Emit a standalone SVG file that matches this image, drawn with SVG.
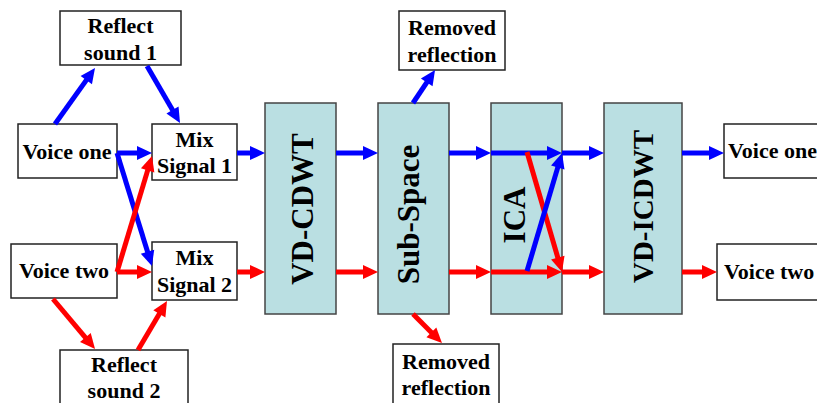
<svg xmlns="http://www.w3.org/2000/svg" width="817" height="403" viewBox="0 0 817 403">
<style>
.w{fill:#fff;stroke:#222;stroke-width:1.5}
.c{fill:#BADFE2;stroke:#444;stroke-width:1.5}
text{font-family:"Liberation Serif","Times New Roman",serif;font-weight:bold;fill:#000}
.t{font-size:22px;text-anchor:middle}
.v{text-anchor:middle}
.b{stroke:#0000FF;stroke-width:5;fill:none}
.r{stroke:#FF0000;stroke-width:5;fill:none}
</style>
<defs>
<marker id="hb" markerUnits="userSpaceOnUse" markerWidth="15" markerHeight="14" refX="5" refY="7" orient="auto" overflow="visible"><path d="M0,0 L15,7 L0,14 z" fill="#0000FF"/></marker>
<marker id="hr" markerUnits="userSpaceOnUse" markerWidth="15" markerHeight="14" refX="5" refY="7" orient="auto" overflow="visible"><path d="M0,0 L15,7 L0,14 z" fill="#FF0000"/></marker>
</defs>
<rect width="817" height="403" fill="#fff"/>
<g id="reflect1"><rect class="w" x="60" y="11" width="121" height="54"/><text class="t" x="120.5" y="33">Reflect</text><text class="t" x="120.5" y="60">sound 1</text></g>
<g id="voice1"><rect class="w" x="18" y="124" width="99" height="54"/><text class="t" x="67" y="159">Voice one</text></g>
<g id="mix1"><rect class="w" x="152" y="124" width="85" height="56"/><text class="t" x="194.5" y="146.5">Mix</text><text class="t" x="194.5" y="173">Signal 1</text></g>
<g id="voice2"><rect class="w" x="11" y="244" width="106" height="54"/><text class="t" x="64" y="278">Voice two</text></g>
<g id="mix2"><rect class="w" x="152" y="242" width="85" height="58"/><text class="t" x="194.5" y="265">Mix</text><text class="t" x="194.5" y="291.5">Signal 2</text></g>
<g id="reflect2"><rect class="w" x="60" y="350" width="128" height="60"/><text class="t" x="124" y="371.5">Reflect</text><text class="t" x="124" y="398">sound 2</text></g>
<g id="vdcdwt"><rect class="c" x="265" y="103" width="71" height="211"/><text class="v" font-size="31" transform="translate(313,209) rotate(-90)">VD-CDWT</text></g>
<g id="subspace"><rect class="c" x="378" y="103" width="71" height="211"/><text class="v" font-size="31" transform="translate(419,214.5) rotate(-90)">Sub-Space</text></g>
<g id="ica"><rect class="c" x="491" y="103" width="71" height="211"/><text class="v" font-size="31" transform="translate(525,215) rotate(-90)">ICA</text></g>
<g id="vdicdwt"><rect class="c" x="604" y="103" width="78" height="211"/><text class="v" font-size="29" transform="translate(653,206.5) rotate(-90)">VD-ICDWT</text></g>
<g id="removed1"><rect class="w" x="399" y="11" width="106" height="59"/><text class="t" x="452" y="35">Removed</text><text class="t" x="452" y="61.5">reflection</text></g>
<g id="removed2"><rect class="w" x="393" y="344" width="106" height="66"/><text class="t" x="446" y="369">Removed</text><text class="t" x="446" y="395">reflection</text></g>
<g id="out1"><rect class="w" x="724" y="124" width="100" height="54"/><text font-size="22" x="728" y="158">Voice one</text></g>
<g id="out2"><rect class="w" x="717" y="244" width="110" height="56"/><text font-size="22" x="724" y="279">Voice two</text></g>
<g id="connectors">
<line class="b" x1="55" y1="124" x2="89.2" y2="76.1" marker-end="url(#hb)"/>
<line class="b" x1="147" y1="66" x2="175" y2="114.3" marker-end="url(#hb)"/>
<line class="b" x1="117" y1="153" x2="142" y2="153" marker-end="url(#hb)"/>
<line class="b" x1="117" y1="153" x2="149" y2="256.5" marker-end="url(#hb)"/>
<line class="r" x1="117" y1="272" x2="149.1" y2="165.6" marker-end="url(#hr)"/>
<line class="r" x1="117" y1="272" x2="142" y2="272" marker-end="url(#hr)"/>
<line class="r" x1="53" y1="299" x2="88.6" y2="341.3" marker-end="url(#hr)"/>
<line class="r" x1="138" y1="350" x2="161.9" y2="309.6" marker-end="url(#hr)"/>
<line class="b" x1="237" y1="153" x2="255" y2="153" marker-end="url(#hb)"/>
<line class="r" x1="237" y1="272" x2="255" y2="272" marker-end="url(#hr)"/>
<line class="b" x1="336" y1="153" x2="368" y2="153" marker-end="url(#hb)"/>
<line class="r" x1="336" y1="272" x2="368" y2="272" marker-end="url(#hr)"/>
<line class="b" x1="413" y1="103" x2="429.5" y2="78.3" marker-end="url(#hb)"/>
<line class="r" x1="413" y1="314" x2="434.9" y2="335.9" marker-end="url(#hr)"/>
<line class="b" x1="449" y1="153" x2="481" y2="153" marker-end="url(#hb)"/>
<line class="r" x1="449" y1="272" x2="481" y2="272" marker-end="url(#hr)"/>
<line class="b" x1="491" y1="153" x2="552" y2="153" marker-end="url(#hb)"/>
<line class="r" x1="491" y1="272" x2="552" y2="272" marker-end="url(#hr)"/>
<line class="r" x1="527" y1="152" x2="559.2" y2="262.4" marker-end="url(#hr)"/>
<line class="b" x1="527" y1="271" x2="559.2" y2="162.6" marker-end="url(#hb)"/>
<line class="b" x1="562" y1="153" x2="594" y2="153" marker-end="url(#hb)"/>
<line class="r" x1="562" y1="272" x2="594" y2="272" marker-end="url(#hr)"/>
<line class="b" x1="682" y1="153" x2="714" y2="153" marker-end="url(#hb)"/>
<line class="r" x1="682" y1="272" x2="707" y2="272" marker-end="url(#hr)"/>
</g>
</svg>
